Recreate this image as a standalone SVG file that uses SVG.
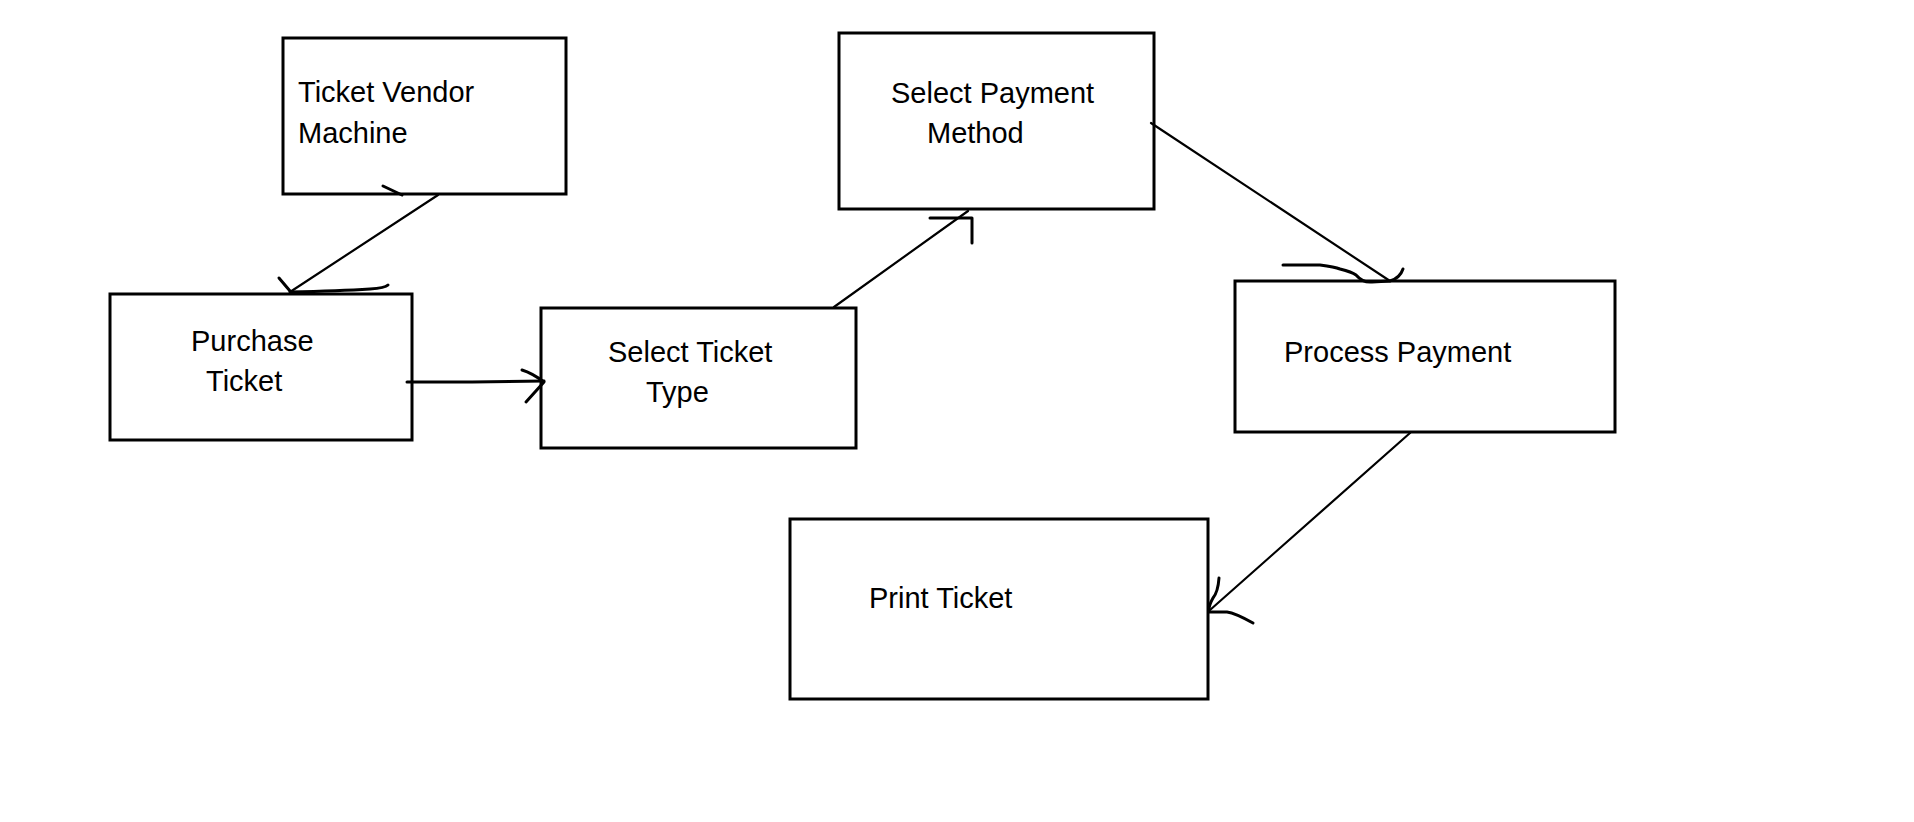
<svg xmlns="http://www.w3.org/2000/svg" width="1914" height="822" viewBox="0 0 1914 822">
<style>
.box{fill:#fff;stroke:#000;stroke-width:3}
.lbl{font-family:"Liberation Sans",Arial,sans-serif;font-size:29px;fill:#000}
.ln{fill:none;stroke:#000;stroke-width:2.2;stroke-linecap:round}
.hd{fill:none;stroke:#000;stroke-width:3;stroke-linecap:round;stroke-linejoin:round}
</style>
<rect width="1914" height="822" fill="#fff"/>
<g id="node-ticket-vendor-machine">
<rect class="box" x="283" y="38" width="283" height="156"/>
<text class="lbl" x="298" y="102">Ticket Vendor</text>
<text class="lbl" x="298" y="143">Machine</text>
</g>
<g id="node-purchase-ticket">
<rect class="box" x="110" y="294" width="302" height="146"/>
<text class="lbl" x="191" y="351">Purchase</text>
<text class="lbl" x="206" y="391">Ticket</text>
</g>
<g id="node-select-ticket-type">
<rect class="box" x="541" y="308" width="315" height="140"/>
<text class="lbl" x="608" y="362">Select Ticket</text>
<text class="lbl" x="646" y="402">Type</text>
</g>
<g id="node-select-payment-method">
<rect class="box" x="839" y="33" width="315" height="176"/>
<text class="lbl" x="891" y="103">Select Payment</text>
<text class="lbl" x="927" y="143">Method</text>
</g>
<g id="node-process-payment">
<rect class="box" x="1235" y="281" width="380" height="151"/>
<text class="lbl" x="1284" y="362">Process Payment</text>
</g>
<g id="node-print-ticket">
<rect class="box" x="790" y="519" width="418" height="180"/>
<text class="lbl" x="869" y="608">Print Ticket</text>
</g>
<g id="connectors">
<!-- Ticket Vendor Machine -> Purchase Ticket -->
<path class="hd" d="M383 186 L402 195"/>
<path class="ln" d="M438 195 L290 292"/>
<path class="hd" d="M279 278 L290 291"/>
<path class="hd" d="M290 292 Q340 291 370 289 Q385 288 388 285"/>
<!-- Purchase Ticket -> Select Ticket Type -->
<path class="hd" d="M407 382 L472 382 L544 381"/>
<path class="hd" d="M522 370 Q532 373 544 382 L526 402"/>
<!-- Select Ticket Type -> Select Payment Method -->
<path class="ln" d="M834 307 L968 211"/>
<path class="hd" d="M930 218 L972 218 L972 243"/>
<!-- Select Payment Method -> Process Payment -->
<path class="ln" d="M1151 123 L1390 281"/>
<path class="hd" d="M1283 265 L1320 265 Q1335 267 1340 269 Q1352 272 1356 275 Q1363 283 1372 282 L1390 281 Q1400 278 1403 269"/>
<!-- Process Payment -> Print Ticket -->
<path class="ln" d="M1410 433 L1210 610"/>
<path class="hd" d="M1219 578 Q1218 592 1213 598 Q1209 605 1209 610"/>
<path class="hd" d="M1209 612 L1227 612 Q1235 613 1253 623"/>
</g>
</svg>
